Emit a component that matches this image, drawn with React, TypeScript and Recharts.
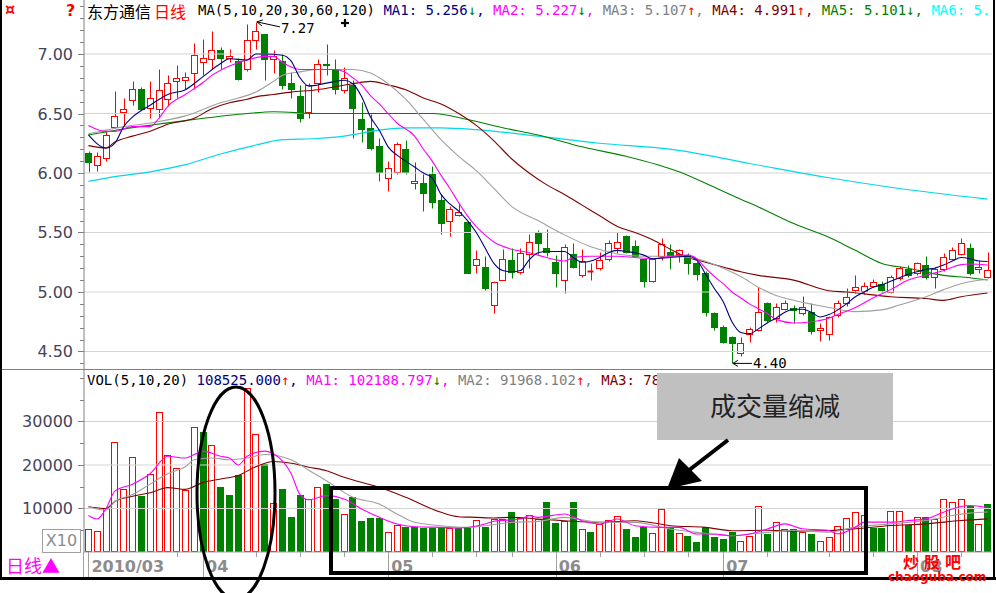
import React from 'react';
import { ComposedChart, Bar, Line, XAxis, YAxis, ReferenceLine, ReferenceDot } from 'recharts';

// ---------- data ----------
const opens = [6.17,6.07,6.13,6.39,6.51,6.61,6.71,6.55,6.54,6.62, 6.77,6.78,6.84,6.93,6.96,7.03,6.97,6.94,6.87,7.12, 7.17,6.96,6.94,6.76,6.65,6.51,6.76,6.92,6.87,6.70, 6.74,6.455,6.38,6.23,5.96,6.01,6.20,5.915,5.92,5.99, 5.77,5.60,5.65,5.59,5.23,5.21,4.89,5.10,5.27,5.17, 5.32,5.50,5.37,5.25,5.10,5.32,5.14,5.175,5.20,5.28, 5.37,5.47,5.39,5.275,5.09,5.30,5.34,5.32,5.31,5.24, 5.16,4.82,4.71,4.62,4.49,4.65,4.68,4.905,4.78,4.855, 4.865,4.82,4.83,4.68,4.65,4.81,4.905,5.017,5.01,5.05, 5.07,5.00,5.115,5.19,5.156,5.226,5.128,5.19,5.28,5.32, 5.366,5.19,5.13];
const highs = [6.185,6.18,6.35,6.69,6.63,6.77,6.72,6.77,6.87,6.82, 6.91,6.85,7.09,7.13,7.19,7.06,7.04,6.97,7.25,7.27, 7.17,7.03,7.00,6.85,6.74,6.76,6.955,7.08,6.96,6.89, 6.78,6.60,6.50,6.29,6.10,6.26,6.275,6.09,5.99,6.06, 5.82,5.725,5.75,5.60,5.35,5.30,5.09,5.36,5.37,5.37, 5.49,5.52,5.53,5.31,5.40,5.41,5.36,5.24,5.34,5.44, 5.50,5.48,5.44,5.28,5.28,5.45,5.40,5.36,5.33,5.26, 5.18,4.83,4.72,4.63,4.62,4.71,5.04,4.92,4.905,4.93, 4.89,4.97,4.905,4.74,4.80,4.93,5.03,5.14,5.08,5.11, 5.09,5.14,5.22,5.23,5.25,5.30,5.21,5.33,5.38,5.45, 5.41,5.27,5.34];
const lows = [6.01,6.02,6.10,6.38,6.40,6.57,6.53,6.46,6.46,6.56, 6.63,6.71,6.71,6.82,6.87,6.87,6.93,6.78,6.86,7.04, 6.78,6.84,6.71,6.63,6.43,6.46,6.68,6.82,6.66,6.67, 6.29,6.26,6.19,5.93,5.85,5.99,5.99,5.865,5.68,5.71, 5.49,5.47,5.635,5.16,5.16,5.02,4.82,5.10,5.115,5.15, 5.20,5.32,5.30,5.04,4.99,5.20,5.13,5.10,5.185,5.26, 5.33,5.33,5.29,5.045,5.08,5.27,5.19,5.25,5.15,5.10, 4.80,4.68,4.57,4.40,4.46,4.58,4.67,4.75,4.75,4.85, 4.74,4.81,4.65,4.59,4.60,4.79,4.88,4.99,4.98,5.04, 5.00,4.99,5.10,5.13,5.146,5.11,5.03,5.18,5.27,5.31, 5.14,5.16,5.12];
const closes = [6.09,6.14,6.32,6.48,6.54,6.71,6.54,6.63,6.70,6.76, 6.80,6.81,6.99,6.97,7.03,6.97,6.985,6.79,7.12,7.19, 6.96,6.98,6.74,6.71,6.46,6.74,6.92,6.91,6.71,6.80, 6.55,6.37,6.21,6.01,6.04,6.24,6.005,5.93,5.83,5.76, 5.58,5.70,5.675,5.16,5.28,5.03,5.08,5.28,5.17,5.33, 5.42,5.41,5.34,5.16,5.38,5.21,5.26,5.18,5.27,5.41, 5.42,5.34,5.30,5.09,5.275,5.40,5.30,5.35,5.24,5.15, 4.83,4.71,4.58,4.57,4.57,4.69,4.83,4.765,4.877,4.91, 4.845,4.87,4.67,4.70,4.79,4.905,4.96,5.045,5.05,5.087, 5.017,5.13,5.20,5.14,5.24,5.128,5.19,5.296,5.35,5.41, 5.156,5.21,5.185];

const volumes = [5360,4800,10160,25200,14400,21840,12800,17840,32160,22400, 19200,14160,28800,27600,24640,15040,13200,17600,37600,27200, 20240,11200,14400,8000,13200,12240,14870,15630,12180,8740, 12570,7050,7820,7820,4520,6210,5820,5820,5520,5520, 5520,5520,5520,5520,7360,5670,7510,7510,9200,7740, 8510,7550,11420,6590,7050,11420,5290,4670,6440,7430, 8350,5290,3370,5670,4370,9890,5670,4370,3750,2220, 5820,3370,2990,4520,2610,3750,10650,4180,6860,5330, 5330,4560,4180,2640,3560,6090,7850,9160,8500,5550, 5550,9540,9540,6320,8010,8010,7620,12220,11460,12220, 10460,6480,11070];
// 1 = red (hollow) volume bar, 0 = green (filled)
const volUp = [1,1,1,1,1,1,0,1,1,1, 1,1,1,0,1,0,0,0,1,1, 0,1,0,0,0,1,1,0,0,1, 0,0,0,0,1,1,0,0,0,0, 0,1,0,0,1,0,1,1,0,1, 1,1,0,0,1,0,1,0,1,1, 1,0,0,0,1,1,0,1,0,0, 0,0,0,0,1,1,1,0,1,1, 0,1,0,1,1,1,1,1,1,0, 0,1,1,0,1,0,1,1,1,1, 0,1,0];

// moving-average lines read at key points: [candle index, value]
const ma5Pts = [[0,6.32],[2,6.21],[3,6.25],[4,6.39],[5,6.47],[7,6.57],[9,6.66],[11,6.70],[13,6.81],[15,6.92],[16,6.96],[18,6.95],[19,7.0],[20,7.0],[22,6.99],[23,6.94],[24,6.80],[25,6.73],[26,6.74],[28,6.77],[29,6.78],[30,6.75],[31,6.64],[32,6.47],[33,6.36],[34,6.22],[35,6.15],[36,6.10],[37,6.05],[38,6.0],[39,5.96],[40,5.82],[41,5.74],[42,5.68],[43,5.60],[44,5.50],[45,5.37],[46,5.24],[47,5.18],[48,5.17],[49,5.18],[50,5.27],[51,5.33],[52,5.34],[54,5.34],[55,5.29],[56,5.25],[57,5.26],[58,5.29],[59,5.33],[60,5.35],[61,5.34],[62,5.33],[63,5.31],[64,5.28],[66,5.29],[68,5.30],[69,5.27],[70,5.15],[71,5.03],[72,4.92],[73,4.75],[74,4.66],[75,4.65],[76,4.69],[77,4.74],[78,4.78],[79,4.83],[80,4.855],[81,4.855],[82,4.83],[83,4.79],[84,4.81],[85,4.85],[86,4.90],[87,4.96],[88,5.00],[89,5.04],[90,5.06],[91,5.09],[92,5.12],[93,5.15],[94,5.17],[95,5.19],[96,5.20],[97,5.226],[98,5.26],[99,5.29],[100,5.28],[101,5.26],[102,5.256]];
const ma10Pts = [[0,6.40],[2,6.35],[3,6.35],[5,6.39],[7,6.39],[8,6.46],[9,6.56],[11,6.66],[13,6.76],[14,6.82],[16,6.90],[18,6.95],[20,6.98],[21,6.98],[22,6.93],[24,6.87],[26,6.87],[28,6.87],[29,6.85],[30,6.80],[31,6.74],[32,6.65],[33,6.58],[34,6.50],[35,6.42],[37,6.31],[38,6.20],[39,6.10],[40,5.98],[41,5.87],[42,5.75],[43,5.64],[44,5.55],[45,5.48],[46,5.42],[48,5.36],[50,5.33],[51,5.31],[53,5.27],[54,5.26],[55,5.29],[57,5.30],[60,5.30],[62,5.29],[64,5.28],[66,5.30],[68,5.31],[69,5.28],[70,5.20],[71,5.13],[72,5.07],[73,5.00],[74,4.95],[75,4.90],[76,4.86],[77,4.82],[78,4.77],[80,4.74],[82,4.75],[84,4.78],[85,4.81],[87,4.87],[89,4.95],[91,5.02],[93,5.10],[95,5.14],[97,5.18],[99,5.23],[100,5.235],[102,5.227]];
const ma20Pts = [[0,6.33],[2,6.36],[4,6.39],[7,6.42],[11,6.48],[15,6.59],[17,6.63],[19,6.68],[21,6.77],[22,6.82],[24,6.85],[26,6.87],[28,6.87],[30,6.87],[32,6.84],[33,6.80],[34,6.75],[36,6.62],[38,6.45],[40,6.28],[42,6.14],[44,6.02],[46,5.87],[48,5.72],[51,5.60],[54,5.48],[57,5.38],[60,5.32],[63,5.30],[66,5.30],[69,5.28],[72,5.20],[74,5.13],[76,5.04],[78,4.97],[80,4.93],[84,4.87],[87,4.835],[90,4.85],[92,4.89],[95,4.96],[97,5.02],[99,5.07],[102,5.107]];
const ma30Pts = [[0,6.23],[2,6.21],[3,6.26],[5,6.31],[7,6.35],[9,6.41],[12,6.46],[14,6.54],[16,6.59],[18,6.62],[19,6.64],[21,6.66],[23,6.68],[26,6.70],[28,6.725],[30,6.75],[32,6.77],[34,6.74],[36,6.70],[38,6.63],[40,6.58],[42,6.50],[44,6.40],[46,6.27],[48,6.12],[50,6.00],[52,5.90],[54,5.82],[56,5.73],[58,5.64],[60,5.55],[62,5.50],[64,5.44],[66,5.36],[68,5.29],[70,5.25],[72,5.21],[74,5.17],[76,5.14],[80,5.10],[84,5.01],[86,5.00],[91,4.96],[95,4.945],[97,4.93],[99,4.96],[102,4.991]];
const ma60Pts = [[0,6.32],[4,6.37],[11,6.44],[18,6.50],[21,6.515],[26,6.50],[33,6.50],[39,6.50],[43,6.45],[47,6.38],[51,6.32],[56,6.22],[61,6.14],[67,6.01],[71,5.88],[74,5.78],[76,5.715],[80,5.575],[84,5.46],[87,5.35],[90,5.24],[93,5.20],[97,5.14],[100,5.12],[102,5.101]];
const ma120Pts = [[0,5.93],[3,5.97],[7,6.01],[11,6.07],[15,6.16],[19,6.235],[22,6.28],[26,6.29],[29,6.31],[33,6.36],[36,6.38],[40,6.38],[44,6.365],[51,6.31],[58,6.25],[66,6.20],[75,6.08],[84,5.96],[91,5.88],[102,5.78]];

const vma5Pts = [[0,8400],[1,7600],[2,10000],[3,14000],[5,15600],[7,18000],[9,22000],[11,21600],[12,22400],[13,23200],[15,22000],[16,21600],[17,20000],[18,22000],[20,23200],[21,22600],[23,18000],[24,13200],[25,12000],[27,12950],[29,12180],[31,9890],[33,7970],[35,6440],[37,5820],[40,5670],[42,5520],[45,6440],[46,7050],[49,7590],[50,8350],[51,7970],[54,8740],[56,7200],[58,6440],[60,7590],[62,6050],[65,5670],[67,5670],[69,4140],[71,4140],[73,3750],[75,4140],[77,5290],[79,6470],[81,5330],[84,4940],[85,4180],[87,5710],[88,6860],[91,6860],[93,7240],[95,7620],[97,9160],[99,10460],[100,10690],[102,10219]];
const vma10Pts = [[0,10400],[2,9600],[3,11600],[5,13200],[7,15600],[9,18000],[11,19600],[12,21200],[14,21600],[16,21200],[18,21600],[20,22400],[23,21200],[25,18800],[27,16400],[30,12570],[33,11030],[35,8740],[37,6820],[40,6050],[43,5670],[45,6050],[48,6820],[51,7050],[54,7970],[58,6820],[62,6820],[66,5290],[69,4520],[73,3750],[77,4520],[80,4940],[84,4560],[87,5710],[91,6470],[95,7240],[98,8390],[100,8930],[102,9197]];
const vma20Pts = [[0,10400],[2,10000],[3,11600],[5,12800],[7,13600],[9,14800],[11,14400],[13,16000],[15,16800],[17,17600],[19,19600],[21,20800],[23,20400],[25,19500],[27,18700],[29,17160],[33,14870],[36,12570],[40,9120],[42,8120],[44,7970],[46,7820],[48,7970],[51,7600],[54,7200],[58,6820],[62,7200],[66,6050],[70,5670],[73,4900],[77,5000],[80,4790],[84,4940],[87,5330],[91,6090],[95,6470],[99,7240],[102,7620]];

const priceTicks = [4.4,4.5,4.6,4.7,4.8,4.9,5.0,5.1,5.2,5.3,5.4,5.5,5.6,5.7,5.8,5.9,6.0,6.1,6.2,6.3,6.4,6.5,6.6,6.7,6.8,6.9,7.0,7.1,7.2,7.3,7.4];
const priceLabels = [4.5,5.0,5.5,6.0,6.5,7.0];
const volTicks = [5000,10000,15000,20000,25000,30000,35000,40000];
const volLabels = [10000,20000,30000];
const monthTicks = [[0,'2010/03'],[13,'04'],[34,'05'],[53,'06'],[72,'07'],[94,'08']];
const weekTicks = [10,19,24,29,39,44,48,58,63,68,77,84,89,99];

// ---------- styles ----------
const RED = '#ff0000';
const GREEN = '#008000';
const NAVY = '#000080';
const MAG = '#ff00ff';
const GRAY = '#a0a0a0';
const DRED = '#800000';
const CYAN = '#00d8e8';
const MONO = '"DejaVu Sans Mono", monospace';
const CJK = '"Noto Sans CJK SC", sans-serif';

const N = closes.length;
const sparse = (pts: number[][]) => {
  const a: (number | null)[] = new Array(N).fill(null);
  pts.forEach(([i, v]) => { a[i] = v; });
  return a;
};
const m5 = sparse(ma5Pts), m10 = sparse(ma10Pts), m20 = sparse(ma20Pts), m30 = sparse(ma30Pts), m60 = sparse(ma60Pts), m120 = sparse(ma120Pts);
const v5 = sparse(vma5Pts), v10 = sparse(vma10Pts), v20 = sparse(vma20Pts);

const rows = closes.map((c, i) => ({
  i, open: opens[i], high: highs[i], low: lows[i], close: c,
  range: [lows[i], highs[i]],
  vol: volumes[i], up: volUp[i] === 1,
  ma5: m5[i], ma10: m10[i], ma20: m20[i], ma30: m30[i], ma60: m60[i], ma120: m120[i],
  v5: v5[i], v10: v10[i], v20: v20[i],
}));

const Candle = (props: any) => {
  const { x, y, width, height, payload } = props;
  if (payload == null) return null;
  const { open, close, high, low } = payload;
  const top = Math.min(y, y + height);
  const h = Math.abs(height);
  const py = (v: number) => top + ((high - v) / (high - low)) * h;
  const cx = Math.round(x + width / 2) + 0.5;
  const up = close >= open;
  const color = up ? RED : GREEN;
  const bTop = Math.round(py(Math.max(open, close))) + 0.5;
  const bBot = Math.round(py(Math.min(open, close))) + 0.5;
  const bx = Math.round(x) + 0.5;
  const bw = Math.round(width) - 1;
  const yHigh = Math.round(top) + 0.5;
  const yLow = Math.round(top + h) + 0.5;
  if (bBot - bTop < 1) {
    return (
      <g>
        <line x1={cx} x2={cx} y1={yHigh} y2={yLow} stroke={color} />
        <line x1={bx} x2={bx + bw} y1={bTop} y2={bTop} stroke={color} strokeWidth={2} />
      </g>
    );
  }
  if (up) {
    return (
      <g>
        <line x1={cx} x2={cx} y1={yHigh} y2={bTop} stroke={color} />
        <line x1={cx} x2={cx} y1={bBot} y2={yLow} stroke={color} />
        <rect x={bx} y={bTop} width={bw} height={bBot - bTop} fill="#fff" stroke={color} />
      </g>
    );
  }
  return (
    <g>
      <line x1={cx} x2={cx} y1={yHigh} y2={yLow} stroke={color} />
      <rect x={bx - 0.5} y={bTop - 0.5} width={bw + 1} height={bBot - bTop + 1} fill={color} />
    </g>
  );
};

const VolBar = (props: any) => {
  const { x, y, width, height, payload } = props;
  if (payload == null) return null;
  const top = Math.min(y, y + height);
  const h = Math.abs(height);
  const bx = Math.round(x) + 0.5;
  const bw = Math.round(width) - 1;
  const ty = Math.round(top) + 0.5;
  const by = Math.round(top + h) - 0.5;
  if (payload.up) {
    return <rect x={bx} y={ty} width={bw} height={Math.max(by - ty, 1)} fill="#fff" stroke={RED} />;
  }
  return <rect x={bx - 0.5} y={ty - 0.5} width={bw + 1} height={by - ty + 1} fill={GREEN} />;
};

const PriceTick = (props: any) => {
  const { x, y, payload } = props;
  const v = payload.value;
  const major = priceLabels.some((m) => Math.abs(m - v) < 1e-6);
  return (
    <g>
      <line x1={x - (major ? 6 : 4)} x2={x} y1={Math.round(y) + 0.5} y2={Math.round(y) + 0.5} stroke="#808080" />
      {major && (
        <text x={x - 11} y={y + 6} textAnchor="end" fontFamily='"DejaVu Sans", sans-serif' fontSize={16} fill="#44445a">
          {v.toFixed(2)}
        </text>
      )}
    </g>
  );
};

const VolTick = (props: any) => {
  const { x, y, payload } = props;
  const v = payload.value;
  const major = volLabels.includes(v);
  return (
    <g>
      <line x1={x - (major ? 6 : 4)} x2={x} y1={Math.round(y) + 0.5} y2={Math.round(y) + 0.5} stroke="#808080" />
      {major && (
        <text x={x - 11} y={y + 6} textAnchor="end" fontFamily='"DejaVu Sans", sans-serif' fontSize={16} fill="#44445a">
          {v}
        </text>
      )}
    </g>
  );
};

const DateTick = (props: any) => {
  const { x, y, payload } = props;
  const m = monthTicks.find((t) => t[0] === payload.value);
  const lx = Math.round(x) + 0.5;
  if (m) {
    return (
      <g>
        <line x1={lx} x2={lx} y1={y} y2={y + 25} stroke="#a0a0a0" />
        <text x={x + 3} y={y + 20} fontFamily='"DejaVu Sans", sans-serif' fontWeight="bold" fontSize={16} fill="#8c8c8c">
          {m[1]}
        </text>
      </g>
    );
  }
  return <line x1={lx} x2={lx} y1={y} y2={y + 5} stroke="#a0a0a0" />;
};

const HighMark = (props: any) => {
  const { cx, cy } = props;
  return (
    <g>
      <line x1={cx + 1} y1={cy} x2={cx + 24} y2={cy + 5} stroke="#000" />
      <polyline points={`${cx + 7},${cy - 2} ${cx + 1},${cy} ${cx + 6},${cy + 4}`} fill="none" stroke="#000" />
      <text x={cx + 25} y={cy + 11} fontFamily={MONO} fontSize={14} fill="#000">7.27</text>
    </g>
  );
};

const LowMark = (props: any) => {
  const { cx, cy } = props;
  return (
    <g>
      <line x1={cx + 1} y1={cy} x2={cx + 20} y2={cy} stroke="#000" />
      <polyline points={`${cx + 6},${cy - 3} ${cx + 1},${cy} ${cx + 6},${cy + 3}`} fill="none" stroke="#000" />
      <text x={cx + 21} y={cy + 5} fontFamily={MONO} fontSize={14} fill="#000">4.40</text>
    </g>
  );
};

const seg = (t: string, c: string) => ({ t, c });
const header1 = [
  seg('MA(5,10,20,30,60,120) ', '#000'),
  seg('MA1: 5.256', NAVY), seg('↓', GREEN), seg(', ', NAVY),
  seg('MA2: 5.227', MAG), seg('↓', GREEN), seg(', ', MAG),
  seg('MA3: 5.107', '#808080'), seg('↑', RED), seg(', ', '#808080'),
  seg('MA4: 4.991', DRED), seg('↑', RED), seg(', ', DRED),
  seg('MA5: 5.101', GREEN), seg('↓', GREEN), seg(', ', GREEN),
  seg('MA6: 5.', '#00ffff'),
];
const header2 = [
  seg('VOL(5,10,20) ', '#000'),
  seg('108525.000', NAVY), seg('↑', RED), seg(', ', NAVY),
  seg('MA1: 102188.797', MAG), seg('↓', GREEN), seg(', ', MAG),
  seg('MA2: 91968.102', '#808080'), seg('↑', RED), seg(', ', '#808080'),
  seg('MA3: 78', DRED),
];

const abs = (s: React.CSSProperties): React.CSSProperties => ({ position: 'absolute', ...s });

export default function App() {
  return (
    <div style={abs({ left: 0, top: 0, width: 996, height: 593, background: '#fff', overflow: 'hidden' })}>
      {/* price panel */}
      <div style={abs({ left: 0, top: 0 })}>
        <ComposedChart width={996} height={370} data={rows} margin={{ top: 0, right: 4, bottom: 0, left: 0 }}>
          <XAxis dataKey="i" hide />
          <YAxis
            domain={[4.3445, 7.4538]}
            allowDataOverflow
            ticks={priceTicks}
            interval={0}
            width={84}
            tickSize={0}
            tickMargin={0}
            tickLine={false}
            axisLine={{ stroke: '#808080' }}
            tick={<PriceTick />}
          />
          {priceLabels.map((v) => (
            <ReferenceLine key={v} y={v} stroke="#d4d4d4" strokeWidth={1} />
          ))}
          <Bar dataKey="range" barSize={7} shape={<Candle />} isAnimationActive={false} />
          <Line dataKey="ma120" stroke={CYAN} dot={false} activeDot={false} connectNulls type="monotone" isAnimationActive={false} strokeWidth={1.2} />
          <Line dataKey="ma60" stroke={GREEN} dot={false} activeDot={false} connectNulls type="monotone" isAnimationActive={false} strokeWidth={1.1} />
          <Line dataKey="ma30" stroke={DRED} dot={false} activeDot={false} connectNulls type="monotone" isAnimationActive={false} strokeWidth={1.1} />
          <Line dataKey="ma20" stroke={GRAY} dot={false} activeDot={false} connectNulls type="monotone" isAnimationActive={false} strokeWidth={1.1} />
          <Line dataKey="ma10" stroke={MAG} dot={false} activeDot={false} connectNulls type="monotone" isAnimationActive={false} strokeWidth={1.1} />
          <Line dataKey="ma5" stroke={NAVY} dot={false} activeDot={false} connectNulls type="monotone" isAnimationActive={false} strokeWidth={1.1} />
          <ReferenceDot x={19} y={7.27} r={0} shape={<HighMark />} />
          <ReferenceDot x={73} y={4.40} r={0} shape={<LowMark />} />
        </ComposedChart>
      </div>

      {/* volume panel */}
      <div style={abs({ left: 0, top: 370 })}>
        <ComposedChart width={996} height={210} data={rows} margin={{ top: 0, right: 4, bottom: 0, left: 0 }}>
          <XAxis
            dataKey="i"
            height={28}
            ticks={[...monthTicks.map((t) => t[0]), ...weekTicks]}
            interval={0}
            tickSize={0}
            tickMargin={0}
            tickLine={false}
            axisLine={{ stroke: '#a0a0a0' }}
            tick={<DateTick />}
          />
          <YAxis
            domain={[0, 41839]}
            allowDataOverflow
            ticks={volTicks}
            interval={0}
            width={84}
            tickSize={0}
            tickMargin={0}
            tickLine={false}
            axisLine={{ stroke: '#808080' }}
            tick={<VolTick />}
          />
          {volLabels.map((v) => (
            <ReferenceLine key={v} y={v} stroke="#d4d4d4" strokeWidth={1} />
          ))}
          <Bar dataKey="vol" barSize={7} shape={<VolBar />} isAnimationActive={false} />
          <Line dataKey="v20" stroke={DRED} dot={false} activeDot={false} connectNulls type="monotone" isAnimationActive={false} strokeWidth={1.1} />
          <Line dataKey="v10" stroke={GRAY} dot={false} activeDot={false} connectNulls type="monotone" isAnimationActive={false} strokeWidth={1.1} />
          <Line dataKey="v5" stroke={MAG} dot={false} activeDot={false} connectNulls type="monotone" isAnimationActive={false} strokeWidth={1.1} />
        </ComposedChart>
      </div>

      {/* frame lines */}
      <div style={abs({ left: 0, top: 0, width: 2, height: 580, background: '#000' })} />
      <div style={abs({ left: 993, top: 0, width: 2, height: 580, background: '#000' })} />
      <div style={abs({ left: 0, top: 577, width: 996, height: 3, background: '#000' })} />
      <div style={abs({ left: 2, top: 369, width: 991, height: 1, background: '#808080' })} />
      <div style={abs({ left: 83, top: 552, width: 1, height: 25, background: '#a0a0a0' })} />

      {/* top-left icons */}
      <div style={abs({ left: 5, top: 1, color: RED, fontSize: 16, lineHeight: '18px', fontWeight: 'bold', fontFamily: '"DejaVu Sans", sans-serif' })}>¤</div>
      <div style={abs({ left: 66, top: 2, color: RED, fontSize: 16, lineHeight: '18px', fontWeight: 'bold', fontFamily: '"DejaVu Sans", sans-serif' })}>?</div>

      {/* price header */}
      <div style={abs({ left: 87, top: 1, height: 22, whiteSpace: 'nowrap', fontFamily: CJK, fontSize: 16, lineHeight: '20px' })}>
        <span style={{ color: '#000' }}>东方通信</span>
        <span style={{ color: RED, marginLeft: 3 }}>日线</span>
      </div>
      <div style={abs({ left: 198, top: 1, width: 794, overflow: 'hidden', whiteSpace: 'pre', fontFamily: MONO, fontSize: 14, lineHeight: '18px' })}>
        {header1.map((s, k) => (
          <span key={k} style={{ color: s.c }}>{s.t}</span>
        ))}
      </div>

      {/* volume header */}
      <div style={abs({ left: 87, top: 371, width: 905, overflow: 'hidden', whiteSpace: 'pre', fontFamily: MONO, fontSize: 14, lineHeight: '18px' })}>
        {header2.map((s, k) => (
          <span key={k} style={{ color: s.c }}>{s.t}</span>
        ))}
      </div>

      {/* X10 box */}
      <div style={abs({ left: 42, top: 529, width: 37, height: 22, border: '1px solid #a0a0a0', color: '#8c8c8c', fontFamily: '"DejaVu Sans", sans-serif', fontSize: 16, lineHeight: '22px', textAlign: 'center', background: '#fff' })}>X10</div>

      {/* period label */}
      <div style={abs({ left: 6, top: 554, color: MAG, fontFamily: CJK, fontSize: 18, lineHeight: '22px', whiteSpace: 'nowrap' })}>日线▲</div>

      {/* annotations */}
      <svg width={996} height={593} style={abs({ left: 0, top: 0 })}>
        <g stroke="#000" strokeWidth={2.2}>
          <line x1={341} y1={23} x2={349} y2={23} />
          <line x1={345} y1={19} x2={345} y2={27} />
        </g>
        <ellipse cx={236} cy={493} rx={39} ry={106} fill="none" stroke="#000" strokeWidth={3} />
        <rect x={331} y={488} width={535} height={85} fill="none" stroke="#000" strokeWidth={4} />
        <rect x={657} y={373} width={236} height={67} fill="#c0c0c0" />
        <text x={775} y={416} textAnchor="middle" fontFamily={CJK} fontSize={26} fill="#222">成交量缩减</text>
        <line x1={728} y1={440} x2={688} y2={471} stroke="#000" strokeWidth={4} />
        <polygon points="667,489 679,458 702,481" fill="#000" />
      </svg>

      {/* logo */}
      <div style={abs({ left: 903, top: 552, color: RED, fontFamily: CJK, fontWeight: 'bold', fontSize: 16, letterSpacing: 5, lineHeight: '18px', whiteSpace: 'nowrap' })}>炒股吧</div>
      <div style={abs({ left: 888, top: 571, color: RED, fontFamily: '"DejaVu Sans", sans-serif', fontWeight: 'bold', fontSize: 12, lineHeight: '12px', whiteSpace: 'nowrap' })}>chaoguba.com</div>
    </div>
  );
}
